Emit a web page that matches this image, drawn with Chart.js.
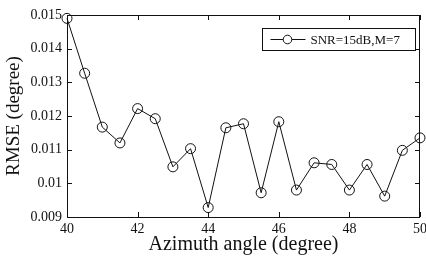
<!DOCTYPE html>
<html>
<head>
<meta charset="utf-8">
<script src="https://cdn.jsdelivr.net/npm/chart.js@4.4.1/dist/chart.umd.min.js"></script>
<style>
html,body{margin:0;padding:0;background:#fff;}
#wrap{width:426px;height:259px;position:relative;}
</style>
</head>
<body>
<div id="wrap"><canvas id="c" width="426" height="259"></canvas></div>
<script>
// Data
const azimuth = [40,40.5,41,41.5,42,42.5,43,43.5,44,44.5,45,45.5,46,46.5,47,47.5,48,48.5,49,49.5,50];
const rmse = [0.01490,0.01327,0.01167,0.01120,0.01222,0.01192,0.01049,0.01103,0.00928,0.01165,0.01177,0.00972,0.01183,0.00980,0.01061,0.01056,0.00980,0.01056,0.00962,0.01098,0.01135];
const seriesLabel = 'SNR=15dB,M=7';
const yTickLabels = ['0.009','0.01','0.011','0.012','0.013','0.014','0.015'];
const xTickLabels = ['40','42','44','46','48','50'];
const xTitle = 'Azimuth angle (degree)';
const yTitle = 'RMSE (degree)';

const FONT = "'Liberation Serif','Times New Roman',serif";
const INK = '#111';

const frameTicks = {
  id: 'frameTicks',
  afterDatasetsDraw(chart) {
    const ctx = chart.ctx, a = chart.chartArea;
    const xs = chart.scales.x, ys = chart.scales.y;
    ctx.save();
    ctx.strokeStyle = INK;
    ctx.lineWidth = 1;
    ctx.strokeRect(Math.round(a.left)+0.5, Math.round(a.top)+0.5, Math.round(a.right-a.left)-1, Math.round(a.bottom-a.top));
    const L = 5;
    ctx.beginPath();
    xs.ticks.forEach(t => {
      const px = Math.round(xs.getPixelForValue(t.value)) + 0.5;
      ctx.moveTo(px, a.bottom); ctx.lineTo(px, a.bottom - L);
      ctx.moveTo(px, a.top); ctx.lineTo(px, a.top + L);
    });
    ys.ticks.forEach(t => {
      const py = Math.round(ys.getPixelForValue(t.value)) + 0.5;
      ctx.moveTo(a.left, py); ctx.lineTo(a.left + L, py);
      ctx.moveTo(a.right, py); ctx.lineTo(a.right - L, py);
    });
    ctx.stroke();
    // legend box
    const bw = 153, bh = 22;
    const bx = Math.round(a.right - 5 - bw) + 0.5, by = Math.round(a.top + 13) + 0.5;
    ctx.fillStyle = '#fff';
    ctx.fillRect(bx, by, bw, bh);
    ctx.strokeRect(bx, by, bw, bh);
    const cy = by + bh/2;
    ctx.beginPath();
    ctx.moveTo(bx + 8, cy); ctx.lineTo(bx + 43, cy);
    ctx.stroke();
    ctx.beginPath();
    ctx.arc(bx + 25, cy, 4.3, 0, Math.PI*2);
    ctx.fillStyle = '#fff';
    ctx.fill();
    ctx.stroke();
    ctx.fillStyle = INK;
    ctx.font = '13px ' + FONT;
    ctx.textBaseline = 'middle';
    ctx.textAlign = 'left';
    ctx.fillText(seriesLabel, bx + 48, cy + 1);
    ctx.restore();
  }
};

new Chart(document.getElementById('c'), {
  type: 'line',
  data: {
    datasets: [{
      label: seriesLabel,
      data: azimuth.map((x, i) => ({x: x, y: rmse[i]})),
      borderColor: INK,
      borderWidth: 1,
      backgroundColor: 'rgba(0,0,0,0)',
      pointStyle: 'circle',
      pointRadius: 5,
      pointBorderWidth: 1,
      pointBorderColor: INK,
      pointBackgroundColor: 'rgba(0,0,0,0)',
      tension: 0,
      clip: false
    }]
  },
  plugins: [frameTicks],
  options: {
    responsive: false,
    animation: false,
    devicePixelRatio: 1,
    layout: { padding: { left: 0, top: 15, right: 6, bottom: 0 } },
    plugins: { legend: { display: false }, tooltip: { enabled: false } },
    scales: {
      x: {
        type: 'linear',
        min: 40, max: 50,
        afterFit(s) { s.height = 42; s.paddingLeft = 0; s.paddingRight = 0; },
        afterBuildTicks(s) { s.ticks = xTickLabels.map(v => ({value: Number(v)})); },
        grid: { display: false, drawTicks: false },
        border: { display: false },
        ticks: {
          padding: 4, color: INK, maxRotation: 0, autoSkip: false,
          font: { family: FONT, size: 14 },
          callback: (v, i) => xTickLabels[i]
        },
        title: { display: true, text: xTitle, color: INK, font: { family: FONT, size: 20 }, padding: { top: 0, bottom: 2 } }
      },
      y: {
        type: 'linear',
        min: 0.009, max: 0.015,
        afterFit(s) { s.width = 67; s.paddingTop = 0; s.paddingBottom = 0; },
        afterBuildTicks(s) { s.ticks = yTickLabels.map(v => ({value: Number(v)})); },
        grid: { display: false, drawTicks: false },
        border: { display: false },
        ticks: {
          padding: 5, color: INK, autoSkip: false,
          font: { family: FONT, size: 14 },
          callback: (v, i) => yTickLabels[i]
        },
        title: { display: true, text: yTitle, color: INK, font: { family: FONT, size: 19 }, padding: { top: 3, bottom: 0 } }
      }
    }
  }
});
</script>
</body>
</html>
